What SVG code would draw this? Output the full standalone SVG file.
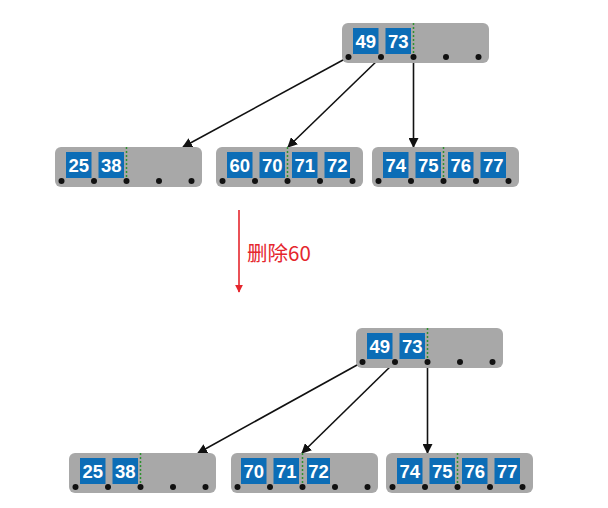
<svg xmlns="http://www.w3.org/2000/svg" width="608" height="508" viewBox="0 0 608 508">
<defs>
<style>
.box{fill:#a8a8a8;}
.key{fill:#0c6db6;}
.kt{fill:#ffffff;font-family:"Liberation Sans",Arial,sans-serif;font-weight:bold;font-size:18.5px;text-anchor:middle;}
.dot{fill:#111111;}
.sep{stroke:#2f8f2f;stroke-width:1.5;stroke-dasharray:2,2;}
.edge{stroke:#111111;stroke-width:1.6;fill:none;marker-end:url(#ah);}
.red{stroke:#e5262d;stroke-width:1.6;fill:none;marker-end:url(#ahr);}
.lbl{fill:#e5262d;font-family:"Noto Sans CJK SC","Noto Sans",sans-serif;font-size:20.5px;}
</style>
<marker id="ah" viewBox="0 0 10 10" refX="9" refY="5" markerWidth="10" markerHeight="10" markerUnits="userSpaceOnUse" orient="auto">
<path d="M0,0 L10,5 L0,10 z" fill="#111111"/>
</marker>
<marker id="ahr" viewBox="0 0 10 10" refX="9" refY="5" markerWidth="8" markerHeight="8" markerUnits="userSpaceOnUse" orient="auto">
<path d="M0,0 L10,5 L0,10 z" fill="#e5262d"/>
</marker>
<g id="dots">
<circle class="dot" cx="6.5" cy="34" r="3"/>
<circle class="dot" cx="39" cy="34" r="3"/>
<circle class="dot" cx="71.5" cy="34" r="3"/>
<circle class="dot" cx="104" cy="34" r="3"/>
<circle class="dot" cx="136.5" cy="34" r="3"/>
</g>
</defs>
<rect width="608" height="508" fill="#ffffff"/>

<g id="connectors">
<line class="edge" x1="348.5" y1="57" x2="183" y2="147"/>
<line class="edge" x1="381" y1="57" x2="288" y2="147"/>
<line class="edge" x1="413.5" y1="57" x2="413.5" y2="147"/>
<line class="edge" x1="362.5" y1="362" x2="198" y2="453"/>
<line class="edge" x1="395" y1="362" x2="302" y2="453"/>
<line class="edge" x1="427.5" y1="362" x2="427.5" y2="453"/>
<line class="red" x1="239" y1="210" x2="239" y2="292"/>
</g>

<g id="label">
<text class="lbl" x="247" y="261">删除60</text>
</g>

<g id="top-root" transform="translate(342,23)">
<rect class="box" width="147" height="40" rx="6"/>
<rect class="key" x="11" y="5" width="25.5" height="26"/><text class="kt" x="23.75" y="25">49</text>
<rect class="key" x="43.5" y="5" width="25.5" height="26"/><text class="kt" x="56.25" y="25">73</text>
<line class="sep" x1="71.5" y1="0" x2="71.5" y2="34"/>
<use href="#dots"/>
</g>

<g id="top-left" transform="translate(55,147)">
<rect class="box" width="147" height="40" rx="6"/>
<rect class="key" x="11" y="5" width="25.5" height="26"/><text class="kt" x="23.75" y="25">25</text>
<rect class="key" x="43.5" y="5" width="25.5" height="26"/><text class="kt" x="56.25" y="25">38</text>
<line class="sep" x1="71.5" y1="0" x2="71.5" y2="34"/>
<use href="#dots"/>
</g>

<g id="top-mid" transform="translate(216,147)">
<rect class="box" width="147" height="40" rx="6"/>
<rect class="key" x="11" y="5" width="25.5" height="26"/><text class="kt" x="23.75" y="25">60</text>
<rect class="key" x="43.5" y="5" width="25.5" height="26"/><text class="kt" x="56.25" y="25">70</text>
<rect class="key" x="76" y="5" width="25.5" height="26"/><text class="kt" x="88.75" y="25">71</text>
<rect class="key" x="108.5" y="5" width="25.5" height="26"/><text class="kt" x="121.25" y="25">72</text>
<line class="sep" x1="71.5" y1="0" x2="71.5" y2="34"/>
<use href="#dots"/>
</g>

<g id="top-right" transform="translate(372,147)">
<rect class="box" width="147" height="40" rx="6"/>
<rect class="key" x="11" y="5" width="25.5" height="26"/><text class="kt" x="23.75" y="25">74</text>
<rect class="key" x="43.5" y="5" width="25.5" height="26"/><text class="kt" x="56.25" y="25">75</text>
<rect class="key" x="76" y="5" width="25.5" height="26"/><text class="kt" x="88.75" y="25">76</text>
<rect class="key" x="108.5" y="5" width="25.5" height="26"/><text class="kt" x="121.25" y="25">77</text>
<line class="sep" x1="71.5" y1="0" x2="71.5" y2="34"/>
<use href="#dots"/>
</g>

<g id="bottom-root" transform="translate(356,328)">
<rect class="box" width="147" height="40" rx="6"/>
<rect class="key" x="11" y="5" width="25.5" height="26"/><text class="kt" x="23.75" y="25">49</text>
<rect class="key" x="43.5" y="5" width="25.5" height="26"/><text class="kt" x="56.25" y="25">73</text>
<line class="sep" x1="71.5" y1="0" x2="71.5" y2="34"/>
<use href="#dots"/>
</g>

<g id="bottom-left" transform="translate(69,453)">
<rect class="box" width="147" height="40" rx="6"/>
<rect class="key" x="11" y="5" width="25.5" height="26"/><text class="kt" x="23.75" y="25">25</text>
<rect class="key" x="43.5" y="5" width="25.5" height="26"/><text class="kt" x="56.25" y="25">38</text>
<line class="sep" x1="71.5" y1="0" x2="71.5" y2="34"/>
<use href="#dots"/>
</g>

<g id="bottom-mid" transform="translate(231,453)">
<rect class="box" width="147" height="40" rx="6"/>
<rect class="key" x="10" y="5" width="25.5" height="26"/><text class="kt" x="22.75" y="25">70</text>
<rect class="key" x="42.5" y="5" width="25.5" height="26"/><text class="kt" x="55.25" y="25">71</text>
<rect class="key" x="76" y="5" width="23" height="26"/><text class="kt" x="87.5" y="25">72</text>
<line class="sep" x1="71.5" y1="0" x2="71.5" y2="34"/>
<use href="#dots"/>
</g>

<g id="bottom-right" transform="translate(386,453)">
<rect class="box" width="147" height="40" rx="6"/>
<rect class="key" x="11" y="5" width="25.5" height="26"/><text class="kt" x="23.75" y="25">74</text>
<rect class="key" x="43.5" y="5" width="25.5" height="26"/><text class="kt" x="56.25" y="25">75</text>
<rect class="key" x="76" y="5" width="25.5" height="26"/><text class="kt" x="88.75" y="25">76</text>
<rect class="key" x="108.5" y="5" width="25.5" height="26"/><text class="kt" x="121.25" y="25">77</text>
<line class="sep" x1="71.5" y1="0" x2="71.5" y2="34"/>
<use href="#dots"/>
</g>
</svg>
